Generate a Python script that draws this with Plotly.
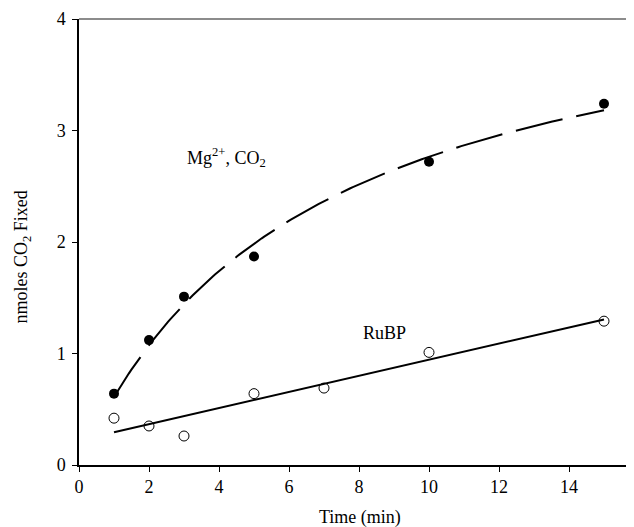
import numpy as np
import plotly.graph_objects as go

# Data
time_mg = [1, 2, 3, 5, 10, 15]
co2_mg = [0.64, 1.12, 1.51, 1.87, 2.72, 3.24]

time_rubp = [1, 2, 3, 5, 7, 10, 15]
co2_rubp = [0.42, 0.35, 0.26, 0.64, 0.69, 1.01, 1.29]

x_ticks = [0, 2, 4, 6, 8, 10, 12, 14]
y_ticks = [0, 1, 2, 3, 4]

FONT = "Liberation Serif, Times New Roman, serif"
X_MAX = 555 / 35

# Hyperbolic (saturation) fit y = a*x/(b+x) derived from the Mg2+ data
xm = np.array(time_mg, float)
ym = np.array(co2_mg, float)
best = None
for b in np.linspace(0.5, 30, 2951):
    g = xm / (b + xm)
    a = np.sum(ym * g) / np.sum(g * g)
    err = np.sum((a * g - ym) ** 2)
    if best is None or err < best[0]:
        best = (err, a, b)
_, a_fit, b_fit = best
xf = np.linspace(min(time_mg), max(time_mg), 200)
yf = a_fit * xf / (b_fit + xf)

# Linear fit for the RuBP data
xr = np.array(time_rubp, float)
yr = np.array(co2_rubp, float)
slope, intercept = np.polyfit(xr, yr, 1)
xl = np.array([min(time_rubp), max(time_rubp)], float)
yl = intercept + slope * xl

fig = go.Figure()
fig.add_trace(go.Scatter(x=xf, y=yf, mode="lines",
                         line=dict(color="black", width=2, dash="48px,14px"),
                         hoverinfo="skip", showlegend=False))
fig.add_trace(go.Scatter(x=xl, y=yl, mode="lines",
                         line=dict(color="black", width=2),
                         hoverinfo="skip", showlegend=False))
fig.add_trace(go.Scatter(x=time_mg, y=co2_mg, mode="markers",
                         marker=dict(symbol="circle", size=10, color="black"),
                         showlegend=False))
fig.add_trace(go.Scatter(x=time_rubp, y=co2_rubp, mode="markers",
                         marker=dict(symbol="circle-open", size=10, color="black",
                                     line=dict(width=1, color="black")),
                         showlegend=False))

fig.update_layout(
    width=626, height=519,
    margin=dict(l=71, r=0, t=11, b=62, autoexpand=False),
    paper_bgcolor="white", plot_bgcolor="white",
    font=dict(family=FONT, size=18, color="black"),
    xaxis=dict(range=[0, X_MAX], tickvals=x_ticks, showgrid=False, zeroline=False,
               showline=True, linecolor="black", linewidth=1.5,
               ticks="outside", ticklen=5, tickcolor="black",
               tickfont=dict(family=FONT, size=18), automargin=False),
    yaxis=dict(range=[0, 4], tickvals=y_ticks, showgrid=False, zeroline=False,
               showline=True, linecolor="black", linewidth=1.5,
               ticks="outside", ticklen=5, tickcolor="black", ticklabelstandoff=3,
               tickfont=dict(family=FONT, size=18), automargin=False),
    shapes=[dict(type="line", xref="paper", yref="paper", x0=0, x1=1, y0=1, y1=1,
                 line=dict(color="#666666", width=1.5))],
    annotations=[
        dict(text="16", x=16 / X_MAX, xref="paper", y=0, yref="paper", yanchor="top",
             xanchor="center", yshift=-9, showarrow=False,
             font=dict(family=FONT, size=18)),
        dict(text="Time (min)", x=0.506, xref="paper", y=-0.1166, yref="paper",
             xanchor="center", yanchor="middle", showarrow=False,
             font=dict(family=FONT, size=18)),
        dict(text="nmoles CO<sub>2</sub> Fixed", textangle=-90,
             x=-0.102, xref="paper", y=0.466, yref="paper",
             xanchor="center", yanchor="middle", showarrow=False,
             font=dict(family=FONT, size=18)),
        dict(text="Mg<sup>2+</sup>, CO<sub>2</sub>", x=4.2, y=2.76, xref="x", yref="y",
             showarrow=False, font=dict(family=FONT, size=18)),
        dict(text="RuBP", x=8.73, y=1.18, xref="x", yref="y",
             showarrow=False, font=dict(family=FONT, size=18)),
    ],
)

fig.write_html("out.html")
